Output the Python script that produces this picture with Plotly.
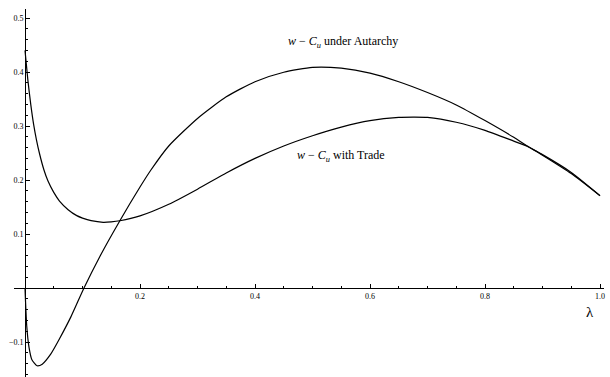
import plotly.graph_objects as go

# lambda grid and w - C_u values for each regime
lam_autarchy = [0.0, 0.003, 0.007, 0.012, 0.021, 0.03, 0.045, 0.06, 0.08, 0.1026,
                0.13, 0.165, 0.2, 0.219, 0.25, 0.3, 0.35, 0.4, 0.45, 0.5,
                0.55, 0.6, 0.65, 0.7, 0.75, 0.8, 0.85, 0.872, 0.9, 0.95, 1.0]
w_autarchy = [0.0, -0.07, -0.11, -0.133, -0.144, -0.141, -0.122, -0.094, -0.053, 0.0,
              0.058, 0.1246, 0.187, 0.2185, 0.263, 0.314, 0.354, 0.382, 0.3995, 0.4085,
              0.407, 0.398, 0.382, 0.362, 0.339, 0.310, 0.279, 0.264, 0.246, 0.212, 0.171]

lam_trade = [0.0, 0.005, 0.01, 0.015, 0.02, 0.025, 0.033, 0.04, 0.05, 0.06,
             0.075, 0.09, 0.1, 0.115, 0.136, 0.15, 0.165, 0.2, 0.25, 0.3,
             0.35, 0.4, 0.45, 0.5, 0.55, 0.6, 0.65, 0.675, 0.7, 0.75,
             0.8, 0.85, 0.872, 0.9, 0.95, 1.0]
w_trade = [0.44, 0.385, 0.34, 0.303, 0.274, 0.25, 0.2185, 0.198, 0.177, 0.161,
           0.145, 0.134, 0.1295, 0.1247, 0.1217, 0.1225, 0.1246, 0.1335, 0.155, 0.183,
           0.213, 0.240, 0.263, 0.282, 0.298, 0.310, 0.316, 0.3165, 0.316, 0.307,
           0.292, 0.272, 0.263, 0.247, 0.214, 0.171]

x_tick_vals = [0.2, 0.4, 0.6, 0.8, 1.0]
x_tick_text = ["0.2", "0.4", "0.6", "0.8", "1.0"]
y_tick_vals = [-0.1, 0.1, 0.2, 0.3, 0.4, 0.5]
y_tick_text = ["\u22120.1", "0.1", "0.2", "0.3", "0.4", "0.5"]

W, H = 610, 377
serif = "Liberation Serif, Times New Roman, serif"

fig = go.Figure()
for xs, ys in [(lam_autarchy, w_autarchy), (lam_trade, w_trade)]:
    fig.add_trace(go.Scatter(
        x=xs, y=ys, mode="lines",
        line=dict(color="black", width=1.2, shape="spline", smoothing=0.6),
        showlegend=False, hoverinfo="skip",
    ))

fig.add_annotation(x=0.553, y=0.455, xref="x", yref="y",
                   text="<i>w</i> \u2212 <i>C<sub>u</sub></i> under Autarchy",
                   showarrow=False, font=dict(family=serif, size=12, color="black"))
fig.add_annotation(x=0.55, y=0.244, xref="x", yref="y",
                   text="<i>w</i> \u2212 <i>C<sub>u</sub></i> with Trade",
                   showarrow=False, font=dict(family=serif, size=12, color="black"))
fig.add_annotation(x=0.983, y=-0.044, xref="x", yref="y", text="\u03bb",
                   showarrow=False, font=dict(family=serif, size=15, color="black"))

# axes cross at the origin
x0_paper = (377 - 288) / H
y0_paper = 25 / W

fig.update_layout(
    width=W, height=H,
    margin=dict(l=0, r=0, t=0, b=0),
    paper_bgcolor="white", plot_bgcolor="white",
    xaxis=dict(
        domain=[14 / W, 604 / W], range=[-0.01913, 1.00696],
        anchor="free", position=x0_paper, side="bottom",
        showline=True, linecolor="black", linewidth=1,
        showgrid=False, zeroline=False,
        tickmode="array", tickvals=x_tick_vals, ticktext=x_tick_text,
        ticks="inside", ticklen=4, tickcolor="black", tickwidth=1,
        minor=dict(dtick=0.05, tick0=0, ticks="inside", ticklen=2,
                   tickcolor="black", tickwidth=1),
        tickfont=dict(family=serif, size=8, color="black"),
    ),
    yaxis=dict(
        domain=[0, (H - 9) / H], range=[-0.16481, 0.51667],
        anchor="free", position=y0_paper, side="left",
        showline=True, linecolor="black", linewidth=1,
        showgrid=False, zeroline=False,
        tickmode="array", tickvals=y_tick_vals, ticktext=y_tick_text,
        ticks="inside", ticklen=4, tickcolor="black", tickwidth=1,
        minor=dict(dtick=0.02, tick0=0, ticks="inside", ticklen=2,
                   tickcolor="black", tickwidth=1),
        tickfont=dict(family=serif, size=8, color="black"),
    ),
)

fig.write_html("out.html")
